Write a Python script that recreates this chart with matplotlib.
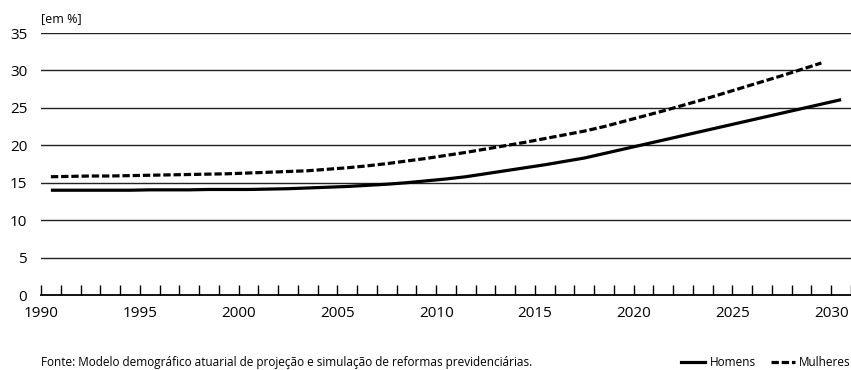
import matplotlib.pyplot as plt
from matplotlib.ticker import MultipleLocator
from matplotlib.lines import Line2D

plt.rcParams["font.family"] = ["Open Sans", "DejaVu Sans"]

# ── Data (share of population, %) ────────────────────────────────────────
years_h = list(range(1990, 2031))
homens = [14.0, 14.0, 14.0, 14.0, 14.0, 14.05, 14.05, 14.05, 14.1, 14.1,
          14.1, 14.15, 14.2, 14.3, 14.4, 14.5, 14.65, 14.8, 15.0, 15.25,
          15.5, 15.8, 16.2, 16.6, 17.0, 17.4, 17.85, 18.3, 18.9, 19.5,
          20.1, 20.7, 21.3, 21.9, 22.5, 23.1, 23.7, 24.3, 24.9, 25.5,
          26.1]
years_m = list(range(1990, 2030))
mulheres = [15.8, 15.85, 15.9, 15.9, 15.95, 16.0, 16.05, 16.1, 16.15, 16.2,
            16.3, 16.4, 16.5, 16.6, 16.8, 17.0, 17.25, 17.55, 17.9, 18.25,
            18.65, 19.05, 19.5, 19.95, 20.4, 20.9, 21.4, 21.9, 22.5, 23.2,
            23.9, 24.6, 25.35, 26.1, 26.9, 27.7, 28.5, 29.3, 30.15, 31.0]

x_ticks = [1990, 1995, 2000, 2005, 2010, 2015, 2020, 2025, 2030]
y_ticks = [0, 5, 10, 15, 20, 25, 30, 35]

DASH = (0, (2.3, 0.9))

fig = plt.figure(figsize=(8.51, 3.70), dpi=100)
ax = fig.add_axes([0.0482, 0.2027, 0.9518, 0.708])

# values are plotted in the middle of each year slot
ax.plot([y + 0.5 for y in years_h], homens, color="black", lw=2.3,
        solid_capstyle="butt", label="Homens", zorder=3)
ax.plot([y + 0.5 for y in years_m], mulheres, color="black", lw=2.3,
        linestyle=DASH, label="Mulheres", zorder=3)

ax.set_xlim(1990, 2031)
ax.set_ylim(0, 35)

# ── Grid & axes ──────────────────────────────────────────────────────────
for v in y_ticks[1:]:
    ax.axhline(v, color="#222222", lw=1.0, zorder=1)

for s in ["top", "right", "left"]:
    ax.spines[s].set_visible(False)
ax.spines["bottom"].set_linewidth(1.3)

ax.set_xticks(x_ticks)
ax.xaxis.set_minor_locator(MultipleLocator(1))
ax.tick_params(axis="x", which="both", direction="in", length=7.5,
               width=1.0, color="black")
ax.tick_params(axis="x", which="major", labelsize=11, pad=8)
ax.set_yticks(y_ticks)
ax.tick_params(axis="y", length=0, labelsize=11, pad=10)

ax.text(0.0, 1.03, "[em %]", transform=ax.transAxes, fontsize=9,
        ha="left", va="bottom")

# ── Footer ───────────────────────────────────────────────────────────────
fig.text(0.0482, 0.021,
         "Fonte: Modelo demográfico atuarial de projeção e simulação de "
         "reformas previdenciárias.",
         fontsize=8.5, ha="left", va="center")

handles = [Line2D([], [], color="black", lw=2.3),
           Line2D([], [], color="black", lw=2.3, linestyle=DASH)]
fig.legend(handles, ["Homens", "Mulheres"], loc="center right",
           bbox_to_anchor=(1.0, 0.021), ncol=2, frameon=False, fontsize=8.5,
           handlelength=2.0, handletextpad=0.4, columnspacing=1.3,
           borderpad=0.0, borderaxespad=0.0)

fig.savefig("out.png", dpi=100)
